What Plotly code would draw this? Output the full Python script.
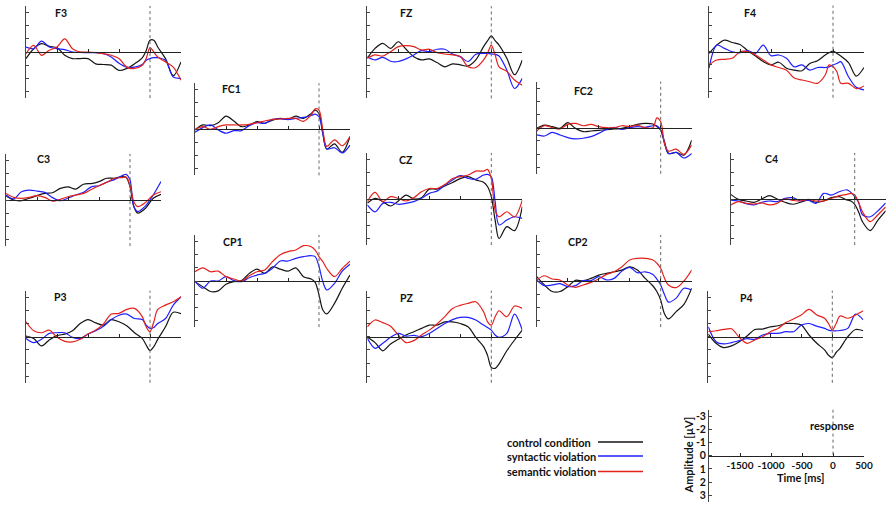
import plotly.graph_objects as go

# ---------------- data (µV, negative plotted upwards) ----------------
TIMES = [-2000, -1875, -1750, -1625, -1500, -1375, -1250, -1125, -1000, -875, -750,
         -625, -500, -375, -250, -125, -62, 0, 62, 125, 250, 375, 500]

PANELS = ["F3", "FZ", "F4", "FC1", "FC2", "C3", "CZ", "C4", "CP1", "CP2", "P3", "PZ", "P4"]
CONDITIONS = ["control condition", "syntactic violation", "semantic violation"]

F3_control = [0.5, -0.25, -0.63, -0.43, -0.33, 0.25, 0.5, 0.5, 0.5, 0.9, 0.95, 1.0, 1.4, 1.25, 0.9, 0.45, -0.1, -0.9, -0.9, -0.38, 0.5, 1.8, 0.75]
F3_syntactic = [-0.38, -0.25, -0.83, -0.38, -0.25, -0.18, 0, 0.03, 0.05, 0.05, 0.13, 0.38, 0.85, 1.15, 1.15, 0.95, 0.63, 0.5, 0.43, 0.43, 0.63, 1.9, 2.0]
F3_semantic = [0.13, -0.5, 0.25, -0.13, -0.38, -1.0, -0.25, 0, 0, 0.05, 0.13, 0.25, 0.5, 1.15, 1.25, 1.0, 0.5, -0.33, 0.0, 0.38, 0.75, 1.15, 2.15]

FZ_control = [0.45, -0.3, -0.68, -0.3, -0.8, -0.23, 0.33, 0.58, 0.5, 0.78, 1.1, 0.88, 0.95, 1.05, 0.58, -0.43, -0.86, -1.24, -0.88, -0.55, 0.45, 1.7, 0.58]
FZ_syntactic = [0.33, 0.58, 0.38, 0.68, 0.7, 0.5, 0.2, -0.13, -0.05, -0.23, -0.23, 0.13, 0.33, 0.7, 0.15, 0.08, 0.08, 0.13, 0.15, 0.28, 1.35, 2.75, 1.98]
FZ_semantic = [0.45, 0.2, 0.28, -0.05, -0.43, -0.5, -0.43, -0.18, -0.23, 0.03, 0.13, 0.2, 0.33, 1.1, 1.15, 0.58, 0.1, -0.55, 0.2, 1.1, 1.45, 2.1, 2.5]

F4_control = [0.13, -0.5, -0.88, -0.7, -0.55, -0.08, 0.33, 0.75, 1.0, 0.8, 1.25, 1.4, 1.45, 0.9, 0.68, 0.25, 0.08, -0.05, 0.13, 0.33, 0.83, 1.85, 1.2]
F4_syntactic = [1.25, -0.5, -0.25, 0, 0.08, -0.08, 0.13, -0.5, 0.3, 0.25, 0.5, 1.15, 1.0, 1.4, 1.2, 1.2, 1.15, 1.0, 0.9, 0.75, 1.9, 2.7, 2.9]
F4_semantic = [1.0, 0.63, 0.58, 0.5, 0, 0, 0.25, 0.63, 1.0, 1.2, 1.4, 2.0, 2.15, 2.28, 2.4, 1.77, 1.0, 1.14, 1.5, 2.4, 2.4, 2.8, 2.6]

FC1_control = [0.05, -0.33, -0.28, -0.5, -1.0, -0.63, -0.2, -0.33, -0.58, -0.45, -0.7, -0.83, -0.75, -1.0, -0.83, -1.2, -1.45, -1.2, 0.35, 1.5, 1.1, 1.75, 0.55]
FC1_syntactic = [0.23, -0.13, -0.33, 0.05, 0.3, 0.1, 0.1, -0.28, -0.5, -0.45, -0.75, -0.8, -0.73, -0.83, -0.9, -1.05, -1.15, -0.95, 0.3, 1.5, 1.4, 1.8, 1.2]
FC1_semantic = [0, -0.2, 0, -0.2, -0.33, -0.33, -0.33, -0.38, -0.5, -0.63, -0.75, -0.78, -0.83, -0.83, -0.6, -1.1, -1.55, -1.45, 0.05, 1.3, 0.8, 1.25, 0.55]

FC2_control = [0.05, -0.2, -0.08, 0.05, -0.38, 0.05, 0.3, 0.25, 0.2, 0.15, 0.1, 0.05, -0.08, -0.25, -0.33, -0.28, -0.08, 0.18, 1.2, 1.95, 1.88, 2.08, 0.95]
FC2_syntactic = [0.55, 0.63, 0.35, 0.55, 0.75, 0.85, 0.8, 0.68, 0.43, 0.13, -0.03, 0.13, 0, -0.08, -0.03, -0.15, -0.15, 0.18, 1.05, 1.95, 1.88, 2.3, 1.95]
FC2_semantic = [0.25, -0.15, 0, 0.1, -0.25, -0.33, -0.15, -0.25, -0.08, 0, 0, -0.15, -0.08, -0.2, 0, 0, -0.75, -0.45, 1.2, 1.78, 1.63, 2.03, 1.3]

C3_control = [-0.33, 0, 0.05, -0.13, -0.33, -0.5, -0.55, -0.88, -1.0, -0.83, -1.2, -1.25, -1.4, -1.65, -1.65, -1.78, -1.72, -1.0, 0.5, 1.0, 0.63, -0.13, -0.43]
C3_syntactic = [-0.38, -0.08, -0.63, -0.75, -0.68, -0.58, -0.18, 0.05, -0.13, -0.38, -0.58, -1.0, -1.08, -1.35, -1.55, -1.85, -1.95, -1.52, 0.5, 0.88, 0.45, -0.38, -1.4]
C3_semantic = [-0.5, -0.2, -0.13, -0.2, -0.33, -0.2, 0.08, -0.05, -0.25, -0.38, -0.5, -0.8, -1.08, -1.35, -1.65, -1.7, -1.75, -1.13, 0.13, 0.5, 0.18, -0.38, -0.63]

CZ_control = [0.33, -0.05, 0.2, 0.53, 0.15, -0.3, 0, -0.1, -0.75, -0.75, -1.0, -1.25, -1.55, -1.7, -1.45, -1.27, -0.95, -0.18, 1.6, 3.0, 2.1, 2.4, 0.58]
CZ_syntactic = [0.45, 0.97, 0.33, 0.25, 0.4, 0.33, 0.2, -0.05, -0.43, -0.6, -1.05, -1.45, -1.77, -1.57, -1.5, -1.82, -1.87, -1.7, 0.2, 1.97, 1.6, 1.35, 1.47]
CZ_semantic = [0.2, -0.5, 0.2, -0.18, -0.05, 0.15, -0.1, -0.55, -0.8, -0.8, -1.1, -1.55, -1.7, -1.82, -2.12, -2.12, -2.25, -1.57, 0.85, 1.35, 0.97, 1.35, 0.08]

C4_control = [-0.35, 0.03, 0.15, 0.25, 0, -0.25, 0, 0.25, 0.4, 0.25, 0.08, 0.25, 0.15, -0.1, -0.18, 0.08, 0.15, 0.4, 0.97, 1.72, 2.4, 1.6, 0.9]
C4_syntactic = [0.08, 0.15, 0.35, 0.45, 0.25, 0.15, 0.2, -0.05, -0.1, 0.15, 0.08, 0.33, -0.43, -0.3, -0.55, -0.7, -0.5, -0.18, 0.25, 1.2, 1.35, 0.9, 0.3]
C4_semantic = [0.45, 0.2, 0.33, 0.38, 0.3, 0.45, 0.33, 0, 0.1, 0.15, 0.03, 0.15, 0.15, -0.05, -0.25, -0.35, -0.43, -0.3, 0.25, 0.97, 1.72, 1.2, 0.6]

CP1_control = [0.05, 0.43, 0.8, 0.75, 0.25, 0.05, -0.03, -0.58, -0.9, -0.58, -1.08, -0.9, -0.75, -1.0, -0.33, -0.15, 0.1, 1.05, 2.2, 2.5, 1.7, 0.55, -0.45]
CP1_syntactic = [0, 0.55, 0, 0, -0.33, -0.03, 0.05, -0.25, -0.45, -0.58, -0.97, -1.52, -1.52, -1.72, -1.85, -1.92, -1.85, -1.1, 0.05, 0.68, 0.18, -0.75, -1.27]
CP1_semantic = [-0.7, -1.0, -0.7, -0.75, -0.33, -0.15, 0, -0.4, -0.7, -0.83, -1.47, -2.0, -2.23, -2.35, -2.68, -2.6, -2.35, -1.85, -1.47, -0.95, -0.33, -0.95, -1.5]

CP2_control = [-0.33, 0.3, 0.8, 0.8, 0.43, -0.05, 0, -0.2, -0.45, -0.58, -0.7, -0.83, -1.08, -0.83, -0.2, 0.38, 0.8, 1.45, 2.5, 2.88, 2.33, 1.77, 0.55]
CP2_syntactic = [-0.08, 0.35, 0.3, 0.2, 0.43, 0.35, -0.03, -0.03, -0.33, -0.08, -0.2, -0.75, -1.03, -0.63, -0.7, -0.5, -0.15, 0.3, 1.05, 1.6, 1.3, 0.55, 0.68]
CP2_semantic = [-0.08, -0.4, -0.15, -0.08, 0.3, 0.48, 0.3, 0.1, -0.15, -0.5, -0.7, -1.08, -1.6, -1.72, -1.72, -1.6, -1.35, -0.97, -0.2, 0.3, 0.5, 0, -0.83]

P3_control = [-0.05, 0.13, 0.7, 0.25, -0.08, -0.2, -0.45, -1.0, -1.3, -1.05, -0.88, -1.3, -1.13, -0.83, -0.3, 0.13, 0.63, 1.05, 0.76, 0.2, -0.75, -1.85, -1.75]
P3_syntactic = [0.13, 0.45, 0.2, -0.25, -0.3, -0.3, 0.05, 0.13, -0.2, -0.45, -0.8, -1.3, -1.63, -1.72, -1.38, -1.3, -0.88, -0.63, -0.7, -1.0, -1.38, -2.4, -3.03]
P3_semantic = [-1.13, -0.45, -0.3, -0.5, 0.05, 0.35, 0.4, 0.2, -0.2, -0.5, -0.97, -1.72, -1.77, -2.07, -2.15, -1.52, -0.75, -0.38, -1.14, -2.07, -2.4, -2.65, -3.03]

PZ_control = [0.05, 0.45, 1.07, 0.55, 0.2, -0.13, -0.38, -0.63, -0.88, -0.88, -1.13, -1.13, -1.0, -0.75, 0.05, 0.75, 1.4, 2.33, 2.4, 2.07, 1.07, 0.25, -0.5]
PZ_syntactic = [0.13, 0.88, 0.5, 0.05, -0.25, -0.05, -0.1, 0, -0.25, -0.63, -1.0, -1.3, -1.47, -1.47, -1.27, -0.88, -0.7, -0.5, -0.13, 0.05, -0.25, -1.72, -0.5]
PZ_semantic = [-0.75, -1.27, -1.07, -0.8, -0.13, 0.45, 0.3, -0.13, -0.5, -0.97, -1.52, -2.15, -2.38, -2.53, -2.65, -1.9, -1.15, -0.88, -1.52, -1.97, -1.52, -2.33, -2.15]

P4_control = [-0.2, 0.5, 0.83, 0.7, 0.38, -0.05, -0.55, -0.58, -0.75, -0.83, -1.0, -1.0, -0.88, -0.13, 0.5, 1.0, 1.4, 1.6, 1.2, 0.88, 0, -0.55, -0.45]
P4_syntactic = [-0.75, 0.38, 0.55, 0.45, 0.3, 0.15, 0.2, -0.13, -0.25, -0.25, -0.38, -0.38, -0.88, -1.0, -0.8, -0.63, -0.5, -0.45, -0.45, -0.47, -0.63, -1.72, -1.27]
P4_semantic = [-0.38, -0.45, -0.55, -0.6, 0.05, 0.5, 0.25, 0, -0.38, -0.63, -1.07, -1.35, -1.65, -2.07, -1.65, -1.4, -1.0, -0.5, -1.0, -1.57, -1.4, -1.65, -1.97]

X_TICKS = [-1500, -1000, -500, 0, 500]
Y_TICKS = [-3, -2, -1, 0, 1, 2, 3]

SERIES = {
    "F3": (F3_control, F3_syntactic, F3_semantic),
    "FZ": (FZ_control, FZ_syntactic, FZ_semantic),
    "F4": (F4_control, F4_syntactic, F4_semantic),
    "FC1": (FC1_control, FC1_syntactic, FC1_semantic),
    "FC2": (FC2_control, FC2_syntactic, FC2_semantic),
    "C3": (C3_control, C3_syntactic, C3_semantic),
    "CZ": (CZ_control, CZ_syntactic, CZ_semantic),
    "C4": (C4_control, C4_syntactic, C4_semantic),
    "CP1": (CP1_control, CP1_syntactic, CP1_semantic),
    "CP2": (CP2_control, CP2_syntactic, CP2_semantic),
    "P3": (P3_control, P3_syntactic, P3_semantic),
    "PZ": (PZ_control, PZ_syntactic, PZ_semantic),
    "P4": (P4_control, P4_syntactic, P4_semantic),
}

# ---------------- layout (pixels) ----------------
W, H = 892, 507
PANEL_W = 155.0
HALF_H = 3.5 * 13.17
# left of y axis, y of zero line, label left, label centre-y
PANEL_POS = {
    "F3": (26, 52, 53, 13),
    "FZ": (367.3, 52.3, 398, 13),
    "F4": (709, 51.7, 741.7, 13),
    "FC1": (195, 129.3, 220, 89),
    "FC2": (536.7, 127.7, 571.7, 91),
    "C3": (6, 200, 35, 159),
    "CZ": (367.3, 199, 396.7, 160),
    "C4": (730.7, 199, 763, 159),
    "CP1": (195, 281, 221, 241.7),
    "CP2": (536.7, 281, 565.7, 242.3),
    "P3": (26, 336.7, 51.7, 296.7),
    "PZ": (367.3, 336.7, 397.7, 297.7),
    "P4": (708.3, 336.7, 738.3, 297.7),
}
LEGEND_AXIS_POS = (709, 455.7)
COLORS = ["#151515", "#1f1fff", "#e3211b"]
FONT = "Lato"

fig = go.Figure()
shapes = []
annotations = []


def sfx(i):
    return "" if i == 1 else str(i)


def setup_axes(i, x0, zy, labels=False):
    s = sfx(i)
    xdom = [x0 / W, (x0 + PANEL_W) / W]
    ydom = [1 - (zy + HALF_H) / H, 1 - (zy - HALF_H) / H]
    zero_frac = 1 - zy / H
    xa = dict(domain=xdom, range=[-2000, 500], anchor="free", position=zero_frac,
              showline=True, linecolor="#222", linewidth=1, ticks="inside", ticklen=3,
              tickcolor="#222", tickvals=X_TICKS, showgrid=False, zeroline=False,
              showticklabels=labels, fixedrange=True, tickangle=0)
    ya = dict(domain=ydom, range=[3.5, -3.5], anchor=f"x{s}", showline=True,
              linecolor="#444", linewidth=1, ticks="inside", ticklen=3, tickcolor="#444",
              tickvals=Y_TICKS, showgrid=False, zeroline=False, showticklabels=labels,
              fixedrange=True)
    if labels:
        xa.update(ticktext=[str(v) for v in X_TICKS],
                  tickfont=dict(family=FONT, size=10, color="#111", weight="bold"))
        ya.update(ticktext=[str(v) for v in Y_TICKS],
                  tickfont=dict(family=FONT, size=10.5, color="#111", weight="bold"))
    fig.layout[f"xaxis{s}"] = xa
    fig.layout[f"yaxis{s}"] = ya


for i, name in enumerate(PANELS, start=1):
    s = sfx(i)
    x0, zy, lx, ly = PANEL_POS[name]
    setup_axes(i, x0, zy)
    for vals, col, cond in zip(SERIES[name], COLORS, CONDITIONS):
        fig.add_trace(go.Scatter(x=TIMES, y=vals, mode="lines", name=cond,
                                 line=dict(color=col, width=1.2, shape="spline", smoothing=0.9),
                                 xaxis=f"x{s}", yaxis=f"y{s}", showlegend=False,
                                 hoverinfo="skip"))
    shapes.append(dict(type="line", xref=f"x{s}", yref=f"y{s} domain", x0=0, x1=0,
                       y0=0, y1=1, line=dict(color="#666", width=1, dash="dot")))
    annotations.append(dict(text=name, x=lx / W, y=1 - ly / H, xref="paper", yref="paper",
                            xanchor="left", yanchor="middle", showarrow=False,
                            font=dict(family=FONT, size=10.5, color="#111", weight="bold")))

# scale / key panel
k = len(PANELS) + 1
ks = sfx(k)
lx0, lzy = LEGEND_AXIS_POS
setup_axes(k, lx0, lzy, labels=True)
fig.add_trace(go.Scatter(x=[None], y=[None], mode="lines", xaxis=f"x{ks}", yaxis=f"y{ks}",
                         showlegend=False, hoverinfo="skip"))
shapes.append(dict(type="line", xref=f"x{ks}", yref=f"y{ks}", x0=0, x1=0, y0=-3.5, y1=0,
                   line=dict(color="#666", width=1, dash="dot")))
annotations += [
    dict(text="response", x=831.5 / W, y=1 - 425 / H, xref="paper", yref="paper",
         xanchor="center", yanchor="middle", showarrow=False,
         font=dict(family=FONT, size=11, color="#111", weight="bold")),
    dict(text="Time [ms]", x=800 / W, y=1 - 477.5 / H, xref="paper", yref="paper",
         xanchor="center", yanchor="middle", showarrow=False,
         font=dict(family=FONT, size=11, color="#111", weight="bold")),
    dict(text="Amplitude [µV]", x=688 / W, y=1 - 455.5 / H, xref="paper", yref="paper",
         xanchor="center", yanchor="middle", showarrow=False, textangle=-90,
         font=dict(family=FONT, size=11, color="#111", weight="bold")),
]

# condition key
KEY_Y = [442, 456, 471.5]
for cond, col, ky in zip(CONDITIONS, COLORS, KEY_Y):
    annotations.append(dict(text=cond, x=505 / W, y=1 - ky / H, xref="paper", yref="paper",
                            xanchor="left", yanchor="middle", showarrow=False,
                            font=dict(family=FONT, size=11, color="#111", weight="bold")))
    shapes.append(dict(type="line", xref="paper", yref="paper", x0=598 / W, x1=643 / W,
                       y0=1 - ky / H, y1=1 - ky / H, line=dict(color=col, width=1.3)))

fig.update_layout(width=W, height=H, margin=dict(l=0, r=0, t=0, b=0, autoexpand=False),
                  autosize=False, paper_bgcolor="white", plot_bgcolor="white",
                  shapes=shapes, annotations=annotations, showlegend=False)

fig.write_html(
    "out.html",
    config={"displayModeBar": False, "responsive": False},
    post_script=(
        "document.documentElement.style.overflow='hidden';"
        "document.body.style.margin='0';"
        "document.body.style.overflow='hidden';"
        "var gd=document.getElementById('{plot_id}');"
        "Plotly.relayout(gd,{width:892,height:507});"
    ),
)
